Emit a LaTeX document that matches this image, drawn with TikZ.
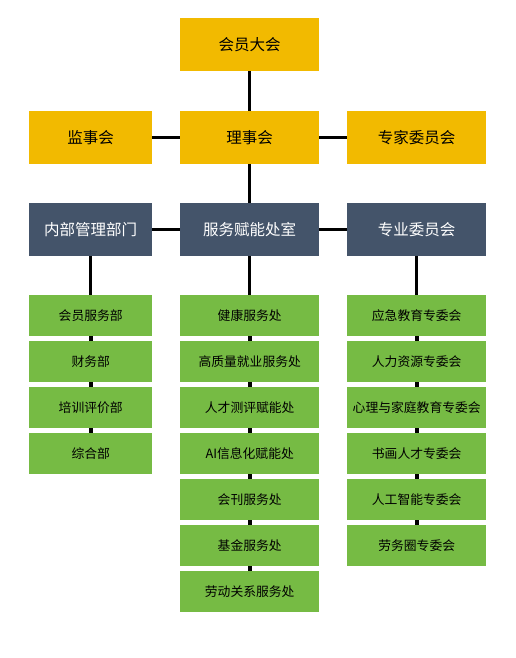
\documentclass[tikz,border=0pt]{standalone}
\usepackage{fontspec}
\setmainfont{Noto Sans CJK SC}
\usetikzlibrary{backgrounds}
\definecolor{gold}{RGB}{242,186,0}
\definecolor{slate}{RGB}{68,84,106}
\definecolor{leaf}{RGB}{118,187,68}
\begin{document}
\begin{tikzpicture}[x=1pt,y=-1pt,
  base/.style={rectangle,inner sep=0pt,anchor=north west,minimum height=53pt},
  goldbox/.style={base,fill=gold,text=black,font=\fontsize{15.5}{17}\selectfont},
  slatebox/.style={base,fill=slate,text=white,font=\fontsize{15.5}{17}\selectfont},
  leafbox/.style={rectangle,inner sep=0pt,anchor=north west,minimum height=41pt,fill=leaf,text=black,font=\fontsize{12.8}{14}\selectfont},
  narrow/.style={minimum width=123pt},
  wide/.style={minimum width=139pt},
  link/.style={line width=3pt,black},
  sublink/.style={line width=4pt,black}]
\useasboundingbox (0,0) rectangle (515,658);
% top rows
\node[goldbox,wide] (hy) at (180,18) {会员大会};
\node[goldbox,narrow] (js) at (29,111) {监事会};
\node[goldbox,wide] (ls) at (180,111) {理事会};
\node[goldbox,wide] (zj) at (347,111) {专家委员会};
\node[slatebox,narrow] (nb) at (29,203) {内部管理部门};
\node[slatebox,wide] (fw) at (180,203) {服务赋能处室};
\node[slatebox,wide] (zy) at (347,203) {专业委员会};
% left column
\node[leafbox,narrow] (l1) at (29,295) {会员服务部};
\node[leafbox,narrow] (l2) at (29,341) {财务部};
\node[leafbox,narrow] (l3) at (29,387) {培训评价部};
\node[leafbox,narrow] (l4) at (29,433) {综合部};
% centre column
\node[leafbox,wide] (c1) at (180,295) {健康服务处};
\node[leafbox,wide] (c2) at (180,341) {高质量就业服务处};
\node[leafbox,wide] (c3) at (180,387) {人才测评赋能处};
\node[leafbox,wide] (c4) at (180,433) {AI信息化赋能处};
\node[leafbox,wide] (c5) at (180,479) {会刊服务处};
\node[leafbox,wide] (c6) at (180,525) {基金服务处};
\node[leafbox,wide] (c7) at (180,571) {劳动关系服务处};
% right column
\node[leafbox,wide] (r1) at (347,295) {应急教育专委会};
\node[leafbox,wide] (r2) at (347,341) {人力资源专委会};
\node[leafbox,wide] (r3) at (347,387) {心理与家庭教育专委会};
\node[leafbox,wide] (r4) at (347,433) {书画人才专委会};
\node[leafbox,wide] (r5) at (347,479) {人工智能专委会};
\node[leafbox,wide] (r6) at (347,525) {劳务圈专委会};
\begin{scope}[on background layer]
\draw[link] (hy.south) -- (ls.north);
\draw[link] (ls.south) -- (fw.north);
\draw[link] (js.east) -- (ls.west);
\draw[link] (ls.east) -- (zj.west);
\draw[link] (nb.east) -- (fw.west);
\draw[link] (fw.east) -- (zy.west);
\draw[link] (nb.south) -- (l1.north);
\draw[sublink] (l1.south) -- (l2.north);
\draw[sublink] (l2.south) -- (l3.north);
\draw[sublink] (l3.south) -- (l4.north);
\draw[link] (fw.south) -- (c1.north);
\draw[sublink] (c1.south) -- (c2.north);
\draw[sublink] (c2.south) -- (c3.north);
\draw[sublink] (c3.south) -- (c4.north);
\draw[sublink] (c4.south) -- (c5.north);
\draw[sublink] (c5.south) -- (c6.north);
\draw[sublink] (c6.south) -- (c7.north);
\draw[link] (zy.south) -- (r1.north);
\draw[sublink] (r1.south) -- (r2.north);
\draw[sublink] (r2.south) -- (r3.north);
\draw[sublink] (r3.south) -- (r4.north);
\draw[sublink] (r4.south) -- (r5.north);
\draw[sublink] (r5.south) -- (r6.north);
\end{scope}
\end{tikzpicture}
\end{document}
